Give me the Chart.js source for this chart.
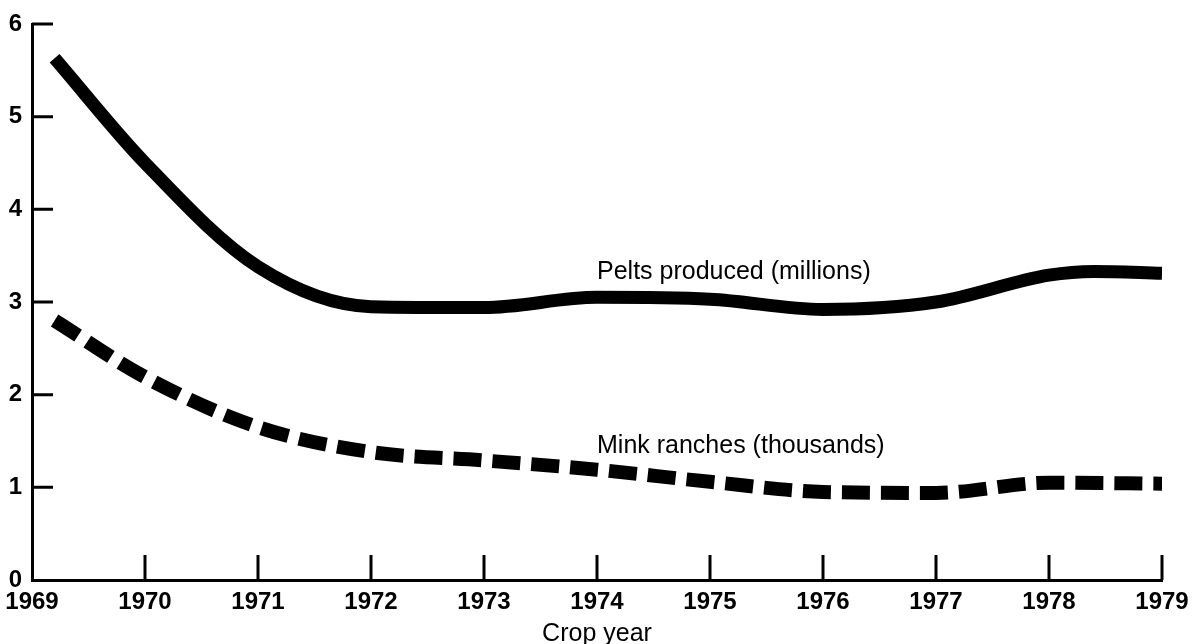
<!DOCTYPE html>
<html>
<head>
<meta charset="utf-8">
<script src="https://cdn.jsdelivr.net/npm/chart.js@4.4.1/dist/chart.umd.min.js"></script>
<style>
  html, body { margin: 0; padding: 0; background: #fff; }
  #wrap { width: 1193px; height: 644px; }
</style>
</head>
<body>
<div id="wrap"><canvas id="chart" width="1193" height="644"></canvas></div>
<script>
// ---------- Data ----------
const peltYears = [1969.2, 1970, 1971, 1972, 1973, 1974, 1975, 1976, 1977, 1978, 1978.4, 1979];
const peltValues = [5.63, 4.5, 3.38, 2.95, 2.94, 3.05, 3.03, 2.92, 3.0, 3.29, 3.33, 3.31];

const minkYears = [1969.2, 1970, 1971, 1972, 1973, 1974, 1975, 1976, 1977, 1978, 1979];
const minkValues = [2.8, 2.19, 1.65, 1.38, 1.29, 1.19, 1.06, 0.95, 0.94, 1.05, 1.04];

const xTicks = [1969, 1970, 1971, 1972, 1973, 1974, 1975, 1976, 1977, 1978, 1979];
const yTicks = [0, 1, 2, 3, 4, 5, 6];

const seriesLabels = ['Pelts produced (millions)', 'Mink ranches (thousands)'];

const FONT = '"Liberation Sans", Arial, Helvetica, sans-serif';

// ---------- Plugins ----------
// inward tick marks like the printed chart
const innerTicks = {
  id: 'innerTicks',
  afterDraw(chart) {
    const { ctx, scales: { x, y } } = chart;
    ctx.save();
    ctx.strokeStyle = '#000';
    ctx.lineWidth = 3;
    ctx.beginPath();
    xTicks.slice(1).forEach(v => {
      const px = x.getPixelForValue(v);
      ctx.moveTo(px, y.bottom);
      ctx.lineTo(px, y.bottom - 25);
    });
    yTicks.slice(1).forEach(v => {
      const py = y.getPixelForValue(v);
      ctx.moveTo(x.left, py);
      ctx.lineTo(x.left + 21, py);
    });
    ctx.stroke();
    ctx.restore();
  }
};

// text labels sitting on the lines
const lineLabels = {
  id: 'lineLabels',
  afterDatasetsDraw(chart, args, opts) {
    const { ctx, scales: { x, y } } = chart;
    ctx.save();
    ctx.fillStyle = '#000';
    ctx.font = '25px ' + FONT;
    ctx.textBaseline = 'middle';
    opts.items.forEach(it => {
      ctx.fillText(it.text, x.getPixelForValue(it.x), y.getPixelForValue(it.y));
    });
    ctx.restore();
  }
};

// ---------- Chart ----------
new Chart(document.getElementById('chart'), {
  type: 'line',
  data: {
    datasets: [
      {
        label: seriesLabels[0],
        data: peltYears.map((yr, i) => ({ x: yr, y: peltValues[i] })),
        borderColor: '#000',
        borderWidth: 13,
        borderCapStyle: 'butt',
        pointRadius: 0,
        cubicInterpolationMode: 'monotone'
      },
      {
        label: seriesLabels[1],
        data: minkYears.map((yr, i) => ({ x: yr, y: minkValues[i] })),
        borderColor: '#000',
        borderWidth: 14,
        borderDash: [28, 11],
        borderCapStyle: 'butt',
        pointRadius: 0,
        cubicInterpolationMode: 'monotone'
      }
    ]
  },
  options: {
    responsive: false,
    animation: false,
    layout: { padding: { top: 24, right: 31, left: 0, bottom: 0 } },
    plugins: {
      legend: { display: false },
      tooltip: { enabled: false },
      lineLabels: {
        items: [
          { text: seriesLabels[0], x: 1974.0, y: 3.32 },
          { text: seriesLabels[1], x: 1974.0, y: 1.45 }
        ]
      }
    },
    scales: {
      x: {
        type: 'linear',
        min: 1969,
        max: 1979,
        afterBuildTicks(scale) { scale.ticks = xTicks.map(v => ({ value: v })); },
        afterFit(scale) { scale.height = 64; },
        grid: { display: false },
        border: { display: true, color: '#000', width: 3 },
        ticks: {
          color: '#000',
          padding: 0,
          maxRotation: 0,
          font: { family: FONT, size: 24, weight: 'bold' },
          callback: v => String(v)
        },
        title: {
          display: true,
          text: 'Crop year',
          color: '#000',
          padding: { top: 0, bottom: -5 },
          font: { family: FONT, size: 25 }
        }
      },
      y: {
        min: 0,
        max: 6,
        afterBuildTicks(scale) { scale.ticks = yTicks.map(v => ({ value: v })); },
        afterFit(scale) { scale.width = 32; },
        grid: { display: false },
        border: { display: true, color: '#000', width: 3 },
        ticks: {
          color: '#000',
          padding: 2,
          font: { family: FONT, size: 24, weight: 'bold' }
        }
      }
    }
  },
  plugins: [innerTicks, lineLabels]
});
</script>
</body>
</html>
